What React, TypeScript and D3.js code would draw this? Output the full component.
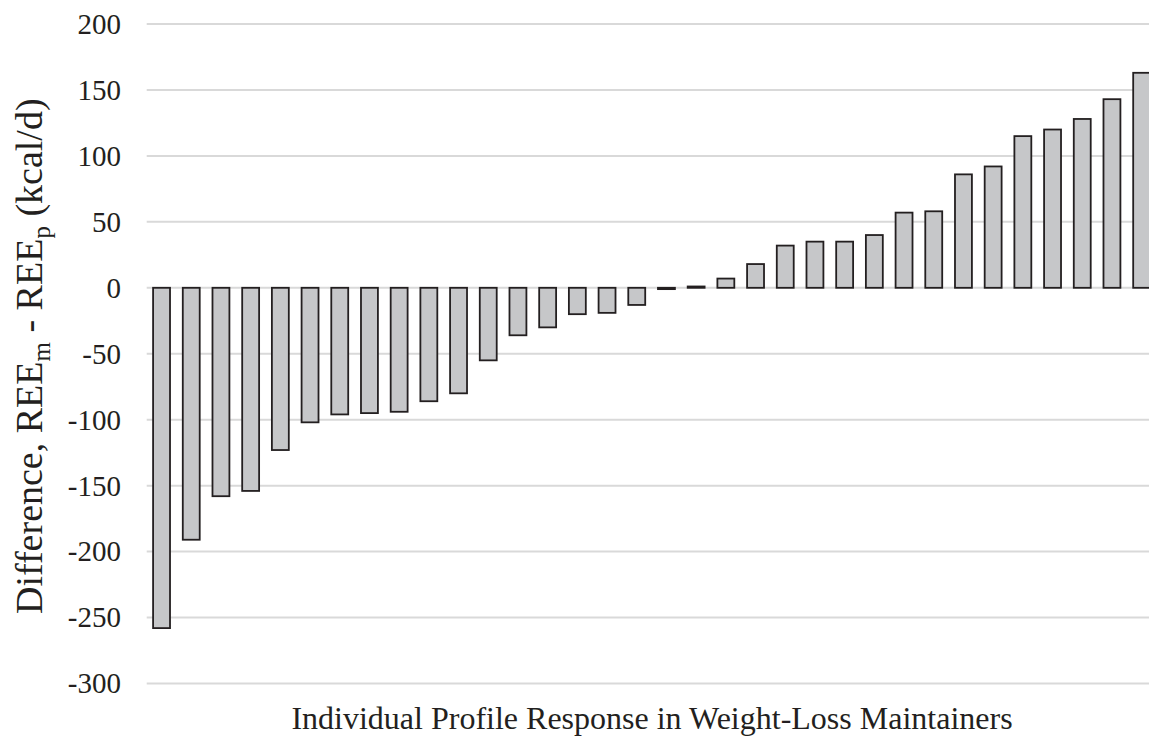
import React, { useEffect, useRef } from 'react';
import * as d3 from 'd3';

// differences REEm - REEp per participant (kcal/d), sorted
const differences = [
  -258, -191, -158, -154, -123, -102, -96, -95, -94, -86, -80, -55, -36, -30,
  -20, -19, -13, -1, 1, 7, 18, 32, 35, 35, 40, 57, 58, 86, 92, 115, 120, 128,
  143, 163,
];
const yTicks = [200, 150, 100, 50, 0, -50, -100, -150, -200, -250, -300];
const xTitle = 'Individual Profile Response in Weight-Loss Maintainers';

const App = () => {
  const ref = useRef<SVGSVGElement>(null);

  useEffect(() => {
    const svg = d3.select(ref.current);
    svg.selectAll('*').remove();

    const width = 1149;
    const height = 741;
    const left = 146.7;
    const right = 1156.5;
    const font = 'Liberation Serif, serif';

    const x = d3
      .scaleBand<number>()
      .domain(differences.map((_, i) => i))
      .range([left, right])
      .paddingInner(0.43)
      .paddingOuter(0.215);

    const y = d3.scaleLinear().domain([-300, 200]).range([683.5, 24]);

    svg.attr('width', width).attr('height', height);

    // gridlines
    svg
      .append('g')
      .selectAll('line')
      .data(yTicks)
      .enter()
      .append('line')
      .attr('x1', left)
      .attr('x2', right)
      .attr('y1', (d) => y(d))
      .attr('y2', (d) => y(d))
      .attr('stroke', '#d9d9d9')
      .attr('stroke-width', 2);

    // tick labels
    svg
      .append('g')
      .selectAll('text')
      .data(yTicks)
      .enter()
      .append('text')
      .attr('x', 121)
      .attr('y', (d) => y(d))
      .attr('dy', '0.34em')
      .attr('text-anchor', 'end')
      .style('font-family', font)
      .attr('font-size', 29)
      .attr('fill', '#231f20')
      .text((d) => d);

    // bars
    svg
      .append('g')
      .selectAll('rect')
      .data(differences)
      .enter()
      .append('rect')
      .attr('x', (_, i) => x(i)!)
      .attr('width', x.bandwidth())
      .attr('y', (d) => y(Math.max(0, d)))
      .attr('height', (d) => Math.abs(y(d) - y(0)))
      .attr('fill', '#c6c7c9')
      .attr('stroke', '#231f20')
      .attr('stroke-width', 1.8);

    // x title
    svg
      .append('text')
      .attr('x', 652)
      .attr('y', 729)
      .attr('text-anchor', 'middle')
      .style('font-family', font)
      .attr('font-size', 32)
      .attr('fill', '#231f20')
      .text(xTitle);

    // y title with subscripts
    const yTitle = svg
      .append('text')
      .attr('transform', 'translate(42,614) rotate(-90)')
      .attr('text-anchor', 'start')
      .style('font-family', font)
      .attr('font-size', 38)
      .attr('fill', '#231f20');
    yTitle.append('tspan').text('Difference, REE');
    yTitle.append('tspan').attr('font-size', 25).attr('dy', 8).text('m');
    yTitle.append('tspan').attr('dy', -8).text(' - REE');
    yTitle.append('tspan').attr('font-size', 25).attr('dy', 8).text('p');
    yTitle.append('tspan').attr('dy', -8).text(' (kcal/d)');
  }, []);

  return (
    <svg
      ref={ref}
      style={{ position: 'absolute', left: 0, top: 0, background: '#fff' }}
    ></svg>
  );
};

export default App;
